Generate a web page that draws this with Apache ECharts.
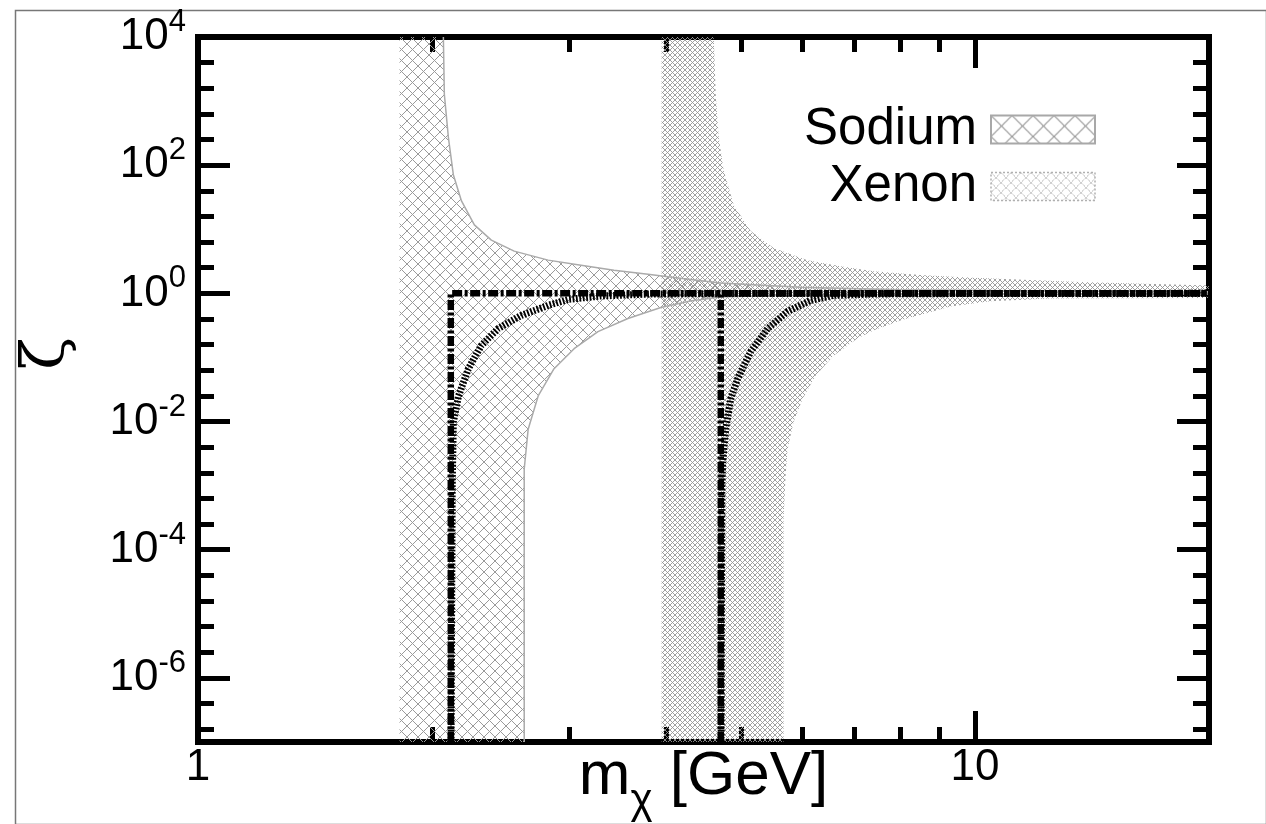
<!DOCTYPE html>
<html>
<head>
<meta charset="utf-8">
<script src="https://cdn.jsdelivr.net/npm/echarts@6/dist/echarts.min.js"></script>
<style>
  html, body { margin: 0; padding: 0; background: #fff; }
  #chart { width: 1266px; height: 824px; }
</style>
</head>
<body>
<div id="chart"></div>
<script>
// Axis ranges and labelled ticks
const massRange = [1, 20];            // m_chi [GeV]
const zetaRange = [1e-7, 1e4];        // zeta
const massLabels = [1, 10];
const zetaLabelExps = [4, 2, 0, -2, -4, -6];

// Sodium band: vertical left edge, then upper and lower boundary curves
const sodiumEdge = 1.817;
const sodiumUpperM = [2.069, 2.075, 2.100, 2.131, 2.183, 2.268, 2.385, 2.552, 2.822, 3.111, 3.430, 3.794, 3.977, 4.44, 4.707, 5.96, 8.01, 12, 20];
const sodiumUpperZ = [1e4, 1277, 270, 71, 27.7, 11.7, 6.78, 4.56, 3.30, 2.75, 2.30, 1.99, 1.85, 1.58, 1.45, 1.25, 1.14, 1.09, 1.06];
const sodiumLowerM = [2.629, 2.629, 2.660, 2.740, 2.872, 3.048, 3.271, 3.575, 3.941, 4.30, 4.70, 5.5, 8, 20];
const sodiumLowerZ = [1e-7, 0.0018, 0.0076, 0.0251, 0.0667, 0.137, 0.253, 0.406, 0.603, 0.76, 0.88, 0.93, 0.96, 0.975];

// Xenon band
const xenonEdge = 3.95;
const xenonUpperM = [4.610, 4.637, 4.679, 4.749, 4.891, 5.143, 5.504, 6.085, 6.710, 7.397, 8.578, 9.94, 13.64, 20];
const xenonUpperZ = [1e4, 1277, 270, 82, 24, 9.4, 5.08, 3.30, 2.65, 2.21, 1.91, 1.75, 1.50, 1.33];
const xenonLowerM = [5.669, 5.669, 5.703, 5.737, 5.840, 5.997, 6.232, 6.572, 7.056, 7.397, 8.013, 9.288, 10.45, 12.48, 20];
const xenonLowerZ = [1e-7, 0.000296, 0.0014, 0.0037, 0.0098, 0.0225, 0.0518, 0.106, 0.197, 0.263, 0.377, 0.625, 0.75, 0.835, 0.85];

// Step thresholds (dash-dot) and smooth turn-on curves (dotted)
const stepNaMass = 2.115;
const stepXeMass = 4.707;
const dotNaM = [2.117, 2.120, 2.124, 2.131, 2.164, 2.228, 2.314, 2.433, 2.605, 2.822, 2.994, 3.3, 3.83, 5, 20];
const dotNaZ = [1e-7, 1e-5, 1e-3, 0.0098, 0.025, 0.0667, 0.153, 0.282, 0.452, 0.649, 0.805, 0.91, 0.977, 0.995, 1];
const dotXeM = [4.712, 4.716, 4.722, 4.734, 4.776, 4.847, 4.948, 5.143, 5.408, 5.737, 6.14, 6.572, 7.5, 10, 20];
const dotXeZ = [1e-7, 1e-5, 1e-3, 0.00232, 0.00762, 0.0225, 0.0464, 0.123, 0.282, 0.522, 0.776, 0.93, 0.98, 0.995, 1];

const FONT = '"Liberation Sans", Arial, Helvetica, sans-serif';

function pairs(ms, zs) { return ms.map((m, i) => [m, zs[i]]); }

// Diagonal cross-hatch tile used as a repeating fill
function crossHatch(period, color, width, dash) {
  const c = document.createElement('canvas');
  c.width = c.height = period;
  const g = c.getContext('2d');
  g.strokeStyle = color;
  g.lineWidth = width;
  if (dash) g.setLineDash(dash);
  g.beginPath();
  for (let k = -1; k <= 1; k++) {
    g.moveTo(k * period, 0); g.lineTo(k * period + period, period);
    g.moveTo(k * period + period, 0); g.lineTo(k * period, period);
  }
  g.stroke();
  return { image: c, repeat: 'repeat' };
}

const sodiumFill = crossHatch(11, '#9a9a9a', 1);
const xenonFill = crossHatch(5, '#959595', 0.9);
const sodiumKey = crossHatch(21, '#9a9a9a', 1.2);
const xenonKey = crossHatch(10, '#a4a4a4', 1, [2, 1.5]);

// Closed outline of a band: left edge, upper curve, lower curve back
function bandOutline(edge, upM, upZ, loM, loZ) {
  const pts = [[edge, zetaRange[0]], [edge, zetaRange[1]]];
  pairs(upM, upZ).forEach(p => pts.push(p));
  pairs(loM, loZ).reverse().forEach(p => pts.push(p));
  return pts;
}
const sodiumOutline = bandOutline(sodiumEdge, sodiumUpperM, sodiumUpperZ, sodiumLowerM, sodiumLowerZ);
const xenonOutline = bandOutline(xenonEdge, xenonUpperM, xenonUpperZ, xenonLowerM, xenonLowerZ);

function bandSeries(name, outline, fill) {
  return {
    name, type: 'custom', xAxisIndex: 0, yAxisIndex: 0,
    data: [[outline[0][0], 1]],
    itemStyle: { color: fill },
    silent: true, z: 1,
    renderItem: (params, api) => ({
      type: 'polygon',
      shape: { points: outline.map(p => api.coord(p)) },
      style: { fill: fill, stroke: null }
    })
  };
}

function lineSeries(data, style, z) {
  return {
    type: 'line', xAxisIndex: 0, yAxisIndex: 0, data,
    showSymbol: false, symbol: 'none', silent: true, z,
    lineStyle: style, animation: false
  };
}

const black = '#000';
const tickStyle = { color: black, width: 5 };
const lineAxis = { show: true, onZero: false, lineStyle: { color: black, width: 6, cap: 'square' } };

function massAxis(position, showLabels) {
  return {
    type: 'log', logBase: 10, position,
    min: massRange[0], max: massRange[1], interval: 1,
    axisLine: lineAxis,
    axisTick: { show: true, inside: true, length: 31, lineStyle: tickStyle },
    minorTick: { show: true, splitNumber: 9, length: 15, lineStyle: tickStyle },
    splitLine: { show: false },
    axisLabel: showLabels ? {
      show: true, margin: 4, color: black, fontFamily: FONT, fontSize: 44,
      formatter: v => massLabels.some(m => Math.abs(m - v) < 1e-6) ? String(Math.round(v)) : ''
    } : { show: false }
  };
}

function zetaTickAxis(position) {
  return {
    type: 'value', position,
    min: Math.log10(zetaRange[0]), max: Math.log10(zetaRange[1]), splitNumber: 5,
    axisLine: position === 'right' ? lineAxis : { show: false, onZero: false },
    axisTick: { show: true, inside: true, length: 32, lineStyle: tickStyle },
    minorTick: { show: true, splitNumber: 5, length: 16, lineStyle: tickStyle },
    splitLine: { show: false },
    axisLabel: { show: false }
  };
}

const option = {
  animation: false,
  backgroundColor: '#fff',
  grid: { left: 198, right: 57, top: 37, bottom: 82, outerBoundsMode: 'none', containLabel: false },
  xAxis: [
    Object.assign(massAxis('bottom', true), {
      // the zero-width {z|} token only sets the line height so the subscript can drop lower
      name: '{m|m}{sub|χ}{t| [GeV]}{z|\u200b}',
      nameLocation: 'middle', nameGap: 4, nameMoveOverlap: false,
      nameTextStyle: {
        color: black, fontFamily: FONT,
        rich: {
          m: { fontSize: 62, lineHeight: 66, verticalAlign: 'top', fontFamily: FONT, color: black },
          sub: { fontSize: 42, lineHeight: 6, verticalAlign: 'bottom', fontFamily: FONT, color: black },
          t: { fontSize: 62, lineHeight: 66, verticalAlign: 'top', fontFamily: FONT, color: black },
          z: { fontSize: 10, lineHeight: 76, fontFamily: FONT, color: black }
        }
      }
    }),
    massAxis('top', false)
  ],
  yAxis: [
    {
      type: 'log', logBase: 10, position: 'left',
      min: zetaRange[0], max: zetaRange[1], interval: 1,
      axisLine: lineAxis,
      axisTick: { show: false },
      splitLine: { show: false },
      axisLabel: {
        show: true, margin: 12, color: black,
        formatter: v => {
          const e = Math.round(Math.log10(v));
          return zetaLabelExps.includes(e) ? '{b|10}{s|' + e + '}' : '';
        },
        rich: {
          b: { fontSize: 44, lineHeight: 60, fontFamily: FONT, color: black },
          s: { fontSize: 31, lineHeight: 16, verticalAlign: 'top', fontFamily: FONT, color: black }
        }
      },
      name: 'ζ', nameLocation: 'middle', nameRotate: 90, nameGap: 120, nameMoveOverlap: false,
      nameTextStyle: { color: black, fontSize: 60, fontFamily: '"DejaVu Serif", "Liberation Serif", serif', padding: [0, 0, 0, 72] }
    },
    zetaTickAxis('left'),
    zetaTickAxis('right')
  ],
  legend: {
    orient: 'vertical', align: 'right', right: 165, top: 99,
    itemWidth: 104, itemHeight: 28, itemGap: 6, selectedMode: false,
    icon: 'rect',
    textStyle: { fontSize: 51, fontFamily: FONT, color: black, padding: [4, 9, 0, 0] },
    data: [
      { name: 'Sodium', itemStyle: { color: sodiumKey, borderColor: '#a8a8a8', borderWidth: 2 } },
      { name: 'Xenon', itemStyle: { color: xenonKey, borderColor: '#b0b0b0', borderWidth: 1.5, borderType: [2, 2] } }
    ]
  },
  graphic: [{
    type: 'rect', left: 13, top: 8, silent: true, z: -10,
    shape: { width: 1251, height: 814 },
    style: { fill: 'none', stroke: '#777', lineWidth: 1.5 }
  }],
  series: [
    bandSeries('Sodium', sodiumOutline, sodiumFill),
    bandSeries('Xenon', xenonOutline, xenonFill),
    lineSeries(pairs(sodiumUpperM, sodiumUpperZ), { color: '#aaa', width: 1.5 }, 3),
    lineSeries(pairs(sodiumLowerM, sodiumLowerZ), { color: '#aaa', width: 1.5 }, 3),
    lineSeries(pairs(dotNaM, dotNaZ), { color: black, width: 7, type: [1.8, 1.6] }, 4),
    lineSeries(pairs(dotXeM, dotXeZ), { color: black, width: 7, type: [1.8, 1.6] }, 4),
    lineSeries([[stepNaMass, zetaRange[0]], [stepNaMass, 1], [massRange[1], 1]], { color: black, width: 6.5, type: [10, 2.5, 3, 2.5] }, 5),
    lineSeries([[stepXeMass, zetaRange[0]], [stepXeMass, 1], [massRange[1], 1]], { color: black, width: 6.5, type: [10, 2.5, 3, 2.5] }, 5)
  ]
};

const chart = echarts.init(document.getElementById('chart'), null, { renderer: 'canvas' });
chart.setOption(option);
</script>
</body>
</html>
